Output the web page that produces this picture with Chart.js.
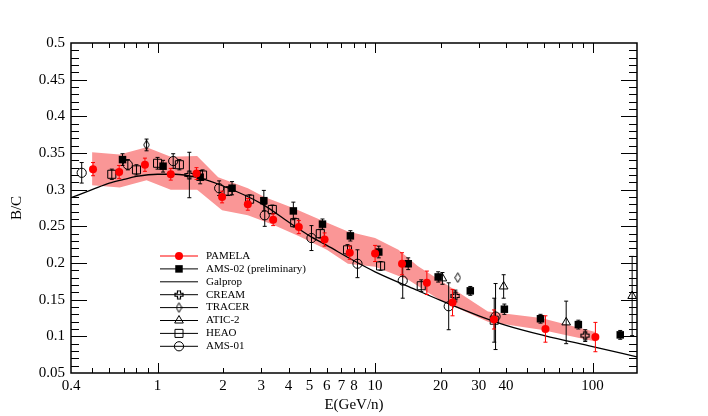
<!DOCTYPE html>
<html>
<head>
<meta charset="utf-8">
<title>B/C ratio</title>
<script src="https://cdn.jsdelivr.net/npm/chart.js@4.4.0/dist/chart.umd.min.js"></script>
<style>
  html, body { margin: 0; padding: 0; background: #fff; }
  #wrap { width: 708px; height: 416px; }
</style>
</head>
<body>
<div id="wrap"><canvas id="bc" width="708" height="416"></canvas></div>
<script>
// tick labels
const xTicks = [0.4, 1, 2, 3, 4, 5, 6, 7, 8, 10, 20, 30, 40, 100];
const xTickMarks = [0.5, 0.6, 0.7, 0.8, 0.9, 1, 2, 3, 4, 5, 6, 7, 8, 9, 10, 20, 30, 40, 50, 60, 70, 80, 90, 100];
const yTicks = [0.05, 0.1, 0.15, 0.2, 0.25, 0.3, 0.35, 0.4, 0.45, 0.5];

// PAMELA
const pamelaE   = [0.505, 0.666, 0.875, 1.15, 1.51, 1.98, 2.60, 3.40, 4.46, 5.86, 7.65, 10.0, 13.3, 17.3, 22.7, 35.2, 60.7, 103];
const pamelaBC  = [0.328, 0.324, 0.334, 0.321, 0.322, 0.290, 0.280, 0.259, 0.249, 0.232, 0.214, 0.213, 0.199, 0.173, 0.146, 0.123, 0.110, 0.099];
const pamelaErr = [0.009, 0.009, 0.009, 0.008, 0.008, 0.008, 0.008, 0.008, 0.009, 0.009, 0.009, 0.011, 0.015, 0.016, 0.018, 0.013, 0.018, 0.020];

// AMS-02 (preliminary)
const ams02E   = [0.69, 1.06, 1.57, 2.2, 3.08, 4.21, 5.73, 7.7, 10.4, 14.2, 19.5, 27.4, 39.3, 57.6, 86, 134];
const ams02BC  = [0.341, 0.332, 0.317, 0.302, 0.285, 0.271, 0.253, 0.237, 0.215, 0.199, 0.181, 0.162, 0.137, 0.124, 0.116, 0.102];
const ams02Err = [0.008, 0.008, 0.009, 0.009, 0.014, 0.012, 0.007, 0.007, 0.008, 0.008, 0.007, 0.006, 0.007, 0.006, 0.006, 0.006];

// Galprop model
const galpropE  = [0.4, 0.5, 0.6, 0.7, 0.8, 1.0, 1.2, 1.5, 2, 3, 4, 5, 6, 8, 10, 15, 20, 30, 40, 60, 100, 160];
const galpropBC = [0.289, 0.300, 0.309, 0.314, 0.318, 0.321, 0.321, 0.317, 0.305, 0.281, 0.256, 0.237, 0.224, 0.203, 0.188, 0.165, 0.149, 0.128, 0.115, 0.101, 0.086, 0.072];

// CREAM
const creamE   = [1.40, 23.4, 92.5];
const creamBC  = [0.320, 0.155, 0.101];
const creamErr = [0.031, 0.008, 0.008];

// TRACER
const tracerE   = [0.89, 24.0];
const tracerBC  = [0.361, 0.180];
const tracerErr = [0.008, 0];

// ATIC-2
const aticE   = [20.4, 39.0, 75.6, 152];
const aticBC  = [0.179, 0.168, 0.119, 0.155];
const aticErr = [0.008, 0.016, 0.029, 0.054];

// HEAO
const heaoE   = [0.616, 0.80, 1.0, 1.26, 1.61, 2.11, 2.65, 3.37, 4.27, 5.6, 7.47, 10.6, 16.3, 35.3];
const heaoBC  = [0.321, 0.327, 0.336, 0.334, 0.320, 0.298, 0.287, 0.273, 0.255, 0.240, 0.218, 0.196, 0.169, 0.122];
const heaoErr = [0.007, 0.007, 0.008, 0.007, 0.007, 0.006, 0.006, 0.006, 0.006, 0.006, 0.007, 0.006, 0.008, 0.030];

// AMS-01
const ams01E   = [0.448, 0.73, 1.18, 1.92, 3.11, 5.1, 8.3, 13.4, 21.8, 35.8];
const ams01BC  = [0.323, 0.334, 0.339, 0.302, 0.265, 0.234, 0.199, 0.176, 0.141, 0.127];
const ams01Err = [0.014, 0.007, 0.010, 0.010, 0.015, 0.017, 0.019, 0.024, 0.032, 0.045];

// PAMELA shaded band (upper / lower edge)
const bandUpE = [0.5, 0.67, 0.89, 1.15, 1.52, 1.9, 2.6, 3.1, 4.2, 5.7, 7.5, 10, 12.8, 15.7, 22, 33, 58, 103];
const bandUp  = [0.351, 0.348, 0.358, 0.345, 0.346, 0.317, 0.302, 0.290, 0.275, 0.258, 0.243, 0.234, 0.218, 0.196, 0.168, 0.134, 0.125, 0.106];
const bandLoE = [0.5, 0.67, 0.89, 1.15, 1.52, 1.98, 2.6, 3.4, 4.5, 6.0, 7.5, 10, 14.2, 20, 33, 58, 103];
const bandLo  = [0.306, 0.303, 0.313, 0.300, 0.300, 0.272, 0.265, 0.252, 0.236, 0.218, 0.199, 0.195, 0.177, 0.149, 0.120, 0.109, 0.093];

function pts(xs, ys) {
  return xs.map((v, i) => ({ x: v, y: ys[i] }));
}

// small marker images for the open cross and the tall diamond
function crossImg() {
  const c = document.createElement('canvas');
  c.width = 10; c.height = 10;
  const g = c.getContext('2d');
  g.strokeStyle = '#000';
  g.lineWidth = 1.2;
  g.beginPath();
  g.moveTo(3.5, 1); g.lineTo(6.5, 1); g.lineTo(6.5, 3.5); g.lineTo(9, 3.5); g.lineTo(9, 6.5);
  g.lineTo(6.5, 6.5); g.lineTo(6.5, 9); g.lineTo(3.5, 9); g.lineTo(3.5, 6.5); g.lineTo(1, 6.5);
  g.lineTo(1, 3.5); g.lineTo(3.5, 3.5); g.closePath();
  g.stroke();
  return c;
}
function diamondImg() {
  const c = document.createElement('canvas');
  c.width = 7; c.height = 11;
  const g = c.getContext('2d');
  g.strokeStyle = '#000';
  g.lineWidth = 1;
  g.beginPath();
  g.moveTo(3.5, 0.7); g.lineTo(6.3, 5.5); g.lineTo(3.5, 10.3); g.lineTo(0.7, 5.5); g.closePath();
  g.stroke();
  return c;
}
const crossMark = crossImg();
const diamondMark = diamondImg();

// error bars, drawn right before each dataset's markers
const errorBars = {
  id: 'errorBars',
  beforeDatasetDraw(chart, args) {
    const ds = chart.data.datasets[args.index];
    if (!ds.errors) return;
    const c = chart.ctx;
    const y = chart.scales.y;
    c.save();
    c.strokeStyle = ds.errColor || '#000';
    c.lineWidth = 1;
    c.beginPath();
    args.meta.data.forEach((pt, i) => {
      const e = ds.errors[i];
      if (!e) return;
      const v = ds.data[i].y;
      const top = y.getPixelForValue(v + e);
      const bot = y.getPixelForValue(v - e);
      c.moveTo(pt.x, top); c.lineTo(pt.x, bot);
      c.moveTo(pt.x - 2, top); c.lineTo(pt.x + 2, top);
      c.moveTo(pt.x - 2, bot); c.lineTo(pt.x + 2, bot);
    });
    c.stroke();
    c.restore();
  }
};

// frame with inward ticks on all four sides
const frameTicks = {
  id: 'frameTicks',
  afterDatasetsDraw(chart) {
    const { ctx, chartArea: a, scales: { x, y } } = chart;
    ctx.save();
    ctx.strokeStyle = '#000';
    ctx.lineWidth = 1;
    ctx.beginPath();
    xTickMarks.forEach(v => {
      const px = Math.round(x.getPixelForValue(v)) + 0.5;
      const len = (v === 1 || v === 10 || v === 100) ? 10 : 5;
      ctx.moveTo(px, a.bottom); ctx.lineTo(px, a.bottom - len);
      ctx.moveTo(px, a.top); ctx.lineTo(px, a.top + len);
    });
    for (let i = 6; i < 50; i++) {
      const py = Math.round(y.getPixelForValue(i / 100)) + 0.5;
      const len = i % 5 === 0 ? 16 : 8;
      ctx.moveTo(a.left, py); ctx.lineTo(a.left + len, py);
      ctx.moveTo(a.right, py); ctx.lineTo(a.right - len, py);
    }
    ctx.stroke();
    ctx.lineWidth = 1.5;
    ctx.strokeRect(a.left, a.top, a.right - a.left, a.bottom - a.top);
    ctx.restore();
  }
};

// legend inside the plot: short line, marker in the middle, label
const innerLegend = {
  id: 'innerLegend',
  afterDraw(chart) {
    const ctx = chart.ctx;
    const items = chart.data.datasets.filter(d => d.inLegend);
    ctx.save();
    ctx.font = '11px "Liberation Serif"';
    ctx.textBaseline = 'middle';
    items.forEach((d, i) => {
      const cy = 256 + i * 12.9;
      ctx.strokeStyle = d.legendLine || '#000';
      ctx.lineWidth = 1;
      ctx.beginPath();
      ctx.moveTo(160, cy); ctx.lineTo(198, cy);
      ctx.stroke();
      if (d.pointRadius > 0) {
        ctx.fillStyle = d.backgroundColor;
        ctx.strokeStyle = d.borderColor;
        ctx.lineWidth = d.borderWidth || 0;
        Chart.helpers.drawPoint(ctx, {
          pointStyle: d.pointStyle, radius: d.pointRadius, rotation: 0, borderWidth: d.borderWidth || 0
        }, 179, cy);
      }
      ctx.fillStyle = '#000';
      ctx.fillText(d.label, 206, cy);
    });
    ctx.restore();
  }
};

const serif = 'Liberation Serif';
Chart.defaults.font.family = serif;
Chart.defaults.color = '#000';

new Chart(document.getElementById('bc'), {
  type: 'scatter',
  data: {
    datasets: [
      { label: 'PAMELA', data: pts(pamelaE, pamelaBC), errors: pamelaErr, errColor: '#ff0000',
        pointStyle: 'circle', pointRadius: 4, backgroundColor: '#ff0000', borderColor: '#ff0000',
        borderWidth: 0, order: 0, inLegend: true, legendLine: '#ff0000' },
      { label: 'AMS-02 (preliminary)', data: pts(ams02E, ams02BC), errors: ams02Err,
        pointStyle: 'rect', pointRadius: 5.3, backgroundColor: '#000', borderColor: '#000',
        borderWidth: 0, order: 1, inLegend: true },
      { label: 'Galprop', data: pts(galpropE, galpropBC), showLine: true, pointRadius: 0,
        borderColor: '#000', borderWidth: 1.3, cubicInterpolationMode: 'monotone', order: 4, inLegend: true },
      { label: 'CREAM', data: pts(creamE, creamBC), errors: creamErr,
        pointStyle: crossMark, pointRadius: 5, backgroundColor: 'rgba(0,0,0,0)', borderColor: '#000',
        borderWidth: 1, order: 2, inLegend: true },
      { label: 'TRACER', data: pts(tracerE, tracerBC), errors: tracerErr,
        pointStyle: diamondMark, pointRadius: 5, backgroundColor: 'rgba(0,0,0,0)', borderColor: '#000',
        borderWidth: 1, order: 2, inLegend: true },
      { label: 'ATIC-2', data: pts(aticE, aticBC), errors: aticErr,
        pointStyle: 'triangle', pointRadius: 5, backgroundColor: 'rgba(0,0,0,0)', borderColor: '#000',
        borderWidth: 1, order: 2, inLegend: true },
      { label: 'HEAO', data: pts(heaoE, heaoBC), errors: heaoErr,
        pointStyle: 'rect', pointRadius: 5.7, backgroundColor: 'rgba(0,0,0,0)', borderColor: '#000',
        borderWidth: 1, order: 2, inLegend: true },
      { label: 'AMS-01', data: pts(ams01E, ams01BC), errors: ams01Err,
        pointStyle: 'circle', pointRadius: 4.6, backgroundColor: 'rgba(0,0,0,0)', borderColor: '#000',
        borderWidth: 1, order: 2, inLegend: true },
      { label: 'band upper', data: pts(bandUpE, bandUp), showLine: true, pointRadius: 0, borderWidth: 0,
        borderColor: 'rgba(0,0,0,0)', backgroundColor: 'rgb(250,150,150)', fill: { target: 9 }, order: 10 },
      { label: 'band lower', data: pts(bandLoE, bandLo), showLine: true, pointRadius: 0, borderWidth: 0,
        borderColor: 'rgba(0,0,0,0)', fill: false, order: 11 }
    ]
  },
  options: {
    responsive: false,
    animation: false,
    events: [],
    layout: { padding: { left: 0, right: 71, top: 43, bottom: 0 } },
    plugins: { legend: { display: false }, tooltip: { enabled: false } },
    scales: {
      x: {
        type: 'logarithmic', min: 0.4, max: 160,
        grid: { display: false, drawTicks: false }, border: { display: false },
        afterBuildTicks: s => { s.ticks = xTicks.map(v => ({ value: v })); },
        afterFit: s => { s.height = 43; },
        ticks: { autoSkip: false, maxRotation: 0, padding: 4, font: { family: serif, size: 15 },
                 callback: v => String(v) },
        title: { display: true, text: 'E(GeV/n)', font: { family: serif, size: 15 }, padding: { top: 0, bottom: 2 } }
      },
      y: {
        min: 0.05, max: 0.5,
        grid: { display: false, drawTicks: false }, border: { display: false },
        afterBuildTicks: s => { s.ticks = yTicks.map(v => ({ value: v })); },
        afterFit: s => { s.width = 71; },
        ticks: { padding: 6, font: { family: serif, size: 15 }, callback: v => String(+v.toFixed(2)) },
        title: { display: true, text: 'B/C', font: { family: serif, size: 15 }, padding: { top: 8, bottom: 0 } }
      }
    }
  },
  plugins: [errorBars, frameTicks, innerLegend]
});
</script>
</body>
</html>
